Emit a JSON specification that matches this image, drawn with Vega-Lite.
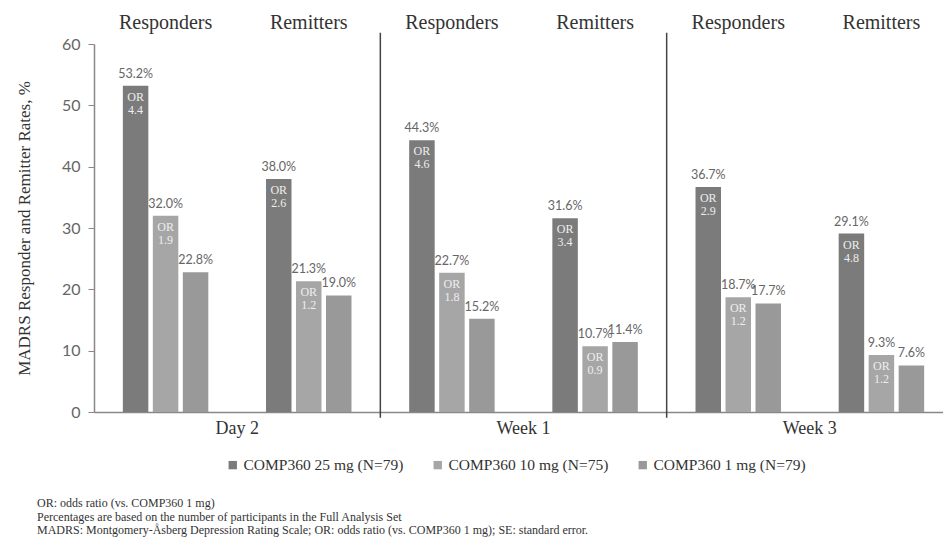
{
  "$schema": "https://vega.github.io/schema/vega-lite/v6.json",
  "width": 849,
  "height": 368,
  "autosize": {"type": "none"},
  "padding": {"left": 94, "top": 44, "right": 0, "bottom": 129},
  "background": "white",
  "config": {
    "view": {"stroke": null},
    "axis": {"grid": false},
    "axisY": {
      "titleFont": "'Liberation Serif', 'Times New Roman', serif",
      "titleFontSize": 17,
      "titleFontWeight": "normal",
      "titleColor": "#333333",
      "titlePadding": 28,
      "labelFont": "Lato",
      "labelFontSize": 16,
      "labelColor": "#666666",
      "tickColor": "#888888",
      "tickSize": 6,
      "labelPadding": 8,
      "domainColor": "#888888",
      "domainWidth": 1.5
    }
  },
  "title": {
    "text": [
      "OR: odds ratio (vs. COMP360 1 mg)",
      "Percentages are based on the number of participants in the Full Analysis Set",
      "MADRS: Montgomery-Åsberg Depression Rating Scale; OR: odds ratio (vs. COMP360 1 mg); SE: standard error."
    ],
    "orient": "bottom",
    "anchor": "start",
    "frame": "group",
    "font": "'Liberation Serif', 'Times New Roman', serif",
    "fontSize": 12,
    "fontWeight": "normal",
    "color": "#333333",
    "lineHeight": 13.5,
    "dx": -57,
    "offset": 24
  },
  "datasets": {
    "bars": [
      {"cat": "Day 2 Responders", "time": "Day 2", "dose": "COMP360 25 mg (N=79)", "rate": 53.2, "or": 4.4},
      {"cat": "Day 2 Responders", "time": "Day 2", "dose": "COMP360 10 mg (N=75)", "rate": 32.0, "or": 1.9},
      {"cat": "Day 2 Responders", "time": "Day 2", "dose": "COMP360 1 mg (N=79)", "rate": 22.8, "or": null},
      {"cat": "Day 2 Remitters", "time": "Day 2", "dose": "COMP360 25 mg (N=79)", "rate": 38.0, "or": 2.6},
      {"cat": "Day 2 Remitters", "time": "Day 2", "dose": "COMP360 10 mg (N=75)", "rate": 21.3, "or": 1.2},
      {"cat": "Day 2 Remitters", "time": "Day 2", "dose": "COMP360 1 mg (N=79)", "rate": 19.0, "or": null},
      {"cat": "Week 1 Responders", "time": "Week 1", "dose": "COMP360 25 mg (N=79)", "rate": 44.3, "or": 4.6},
      {"cat": "Week 1 Responders", "time": "Week 1", "dose": "COMP360 10 mg (N=75)", "rate": 22.7, "or": 1.8},
      {"cat": "Week 1 Responders", "time": "Week 1", "dose": "COMP360 1 mg (N=79)", "rate": 15.2, "or": null},
      {"cat": "Week 1 Remitters", "time": "Week 1", "dose": "COMP360 25 mg (N=79)", "rate": 31.6, "or": 3.4},
      {"cat": "Week 1 Remitters", "time": "Week 1", "dose": "COMP360 10 mg (N=75)", "rate": 10.7, "or": 0.9},
      {"cat": "Week 1 Remitters", "time": "Week 1", "dose": "COMP360 1 mg (N=79)", "rate": 11.4, "or": null},
      {"cat": "Week 3 Responders", "time": "Week 3", "dose": "COMP360 25 mg (N=79)", "rate": 36.7, "or": 2.9},
      {"cat": "Week 3 Responders", "time": "Week 3", "dose": "COMP360 10 mg (N=75)", "rate": 18.7, "or": 1.2},
      {"cat": "Week 3 Responders", "time": "Week 3", "dose": "COMP360 1 mg (N=79)", "rate": 17.7, "or": null},
      {"cat": "Week 3 Remitters", "time": "Week 3", "dose": "COMP360 25 mg (N=79)", "rate": 29.1, "or": 4.8},
      {"cat": "Week 3 Remitters", "time": "Week 3", "dose": "COMP360 10 mg (N=75)", "rate": 9.3, "or": 1.2},
      {"cat": "Week 3 Remitters", "time": "Week 3", "dose": "COMP360 1 mg (N=79)", "rate": 7.6, "or": null}
    ],
    "seps": [
      {"time": "Week 1"},
      {"time": "Week 3"}
    ]
  },
  "layer": [
    {
      "data": {"name": "bars"},
      "encoding": {
        "x": {
          "field": "cat",
          "type": "nominal",
          "sort": null,
          "scale": {"range": [0, 859], "paddingInner": 0.403, "paddingOuter": 0.2015},
          "axis": {
            "orient": "top",
            "title": null,
            "ticks": false,
            "tickSize": 0,
            "domain": false,
            "labelAngle": 0,
            "labelFont": "'Liberation Serif', 'Times New Roman', serif",
            "labelFontSize": 20,
            "labelColor": "#333333",
            "labelPadding": 12,
            "labelExpr": "split(datum.label, ' ')[2]"
          }
        },
        "xOffset": {
          "field": "dose",
          "type": "nominal",
          "sort": ["COMP360 25 mg (N=79)", "COMP360 10 mg (N=75)", "COMP360 1 mg (N=79)"],
          "scale": {"paddingInner": 0.15, "paddingOuter": 0}
        },
        "y": {
          "field": "rate",
          "type": "quantitative",
          "scale": {"domain": [0, 60], "nice": false},
          "axis": {"title": "MADRS Responder and Remitter Rates, %", "values": [0, 10, 20, 30, 40, 50, 60]}
        }
      },
      "layer": [
        {
          "mark": {"type": "bar"},
          "encoding": {
            "color": {
              "field": "dose",
              "type": "nominal",
              "scale": {
                "domain": ["COMP360 25 mg (N=79)", "COMP360 10 mg (N=75)", "COMP360 1 mg (N=79)"],
                "range": ["#7b7b7b", "#a6a6a6", "#999999"]
              },
              "legend": {
                "orient": "none",
                "legendX": 131,
                "legendY": 413,
                "direction": "horizontal",
                "title": null,
                "symbolType": "square",
                "symbolSize": 70,
                "symbolStrokeWidth": 0,
                "labelFont": "'Liberation Serif', 'Times New Roman', serif",
                "labelFontSize": 15.5,
                "labelColor": "#333333",
                "labelOffset": 3,
                "columnPadding": 26
              }
            }
          }
        },
        {
          "mark": {
            "type": "text",
            "font": "Lato",
            "fontSize": 12.5,
            "color": "#666666",
            "baseline": "alphabetic",
            "dy": -8,
            "text": {"expr": "format(datum.rate, '.1f') + '%'"}
          }
        },
        {
          "transform": [{"filter": "datum.or != null"}],
          "mark": {
            "type": "text",
            "font": "'Liberation Serif', 'Times New Roman', serif",
            "fontSize": 12,
            "color": "#eeeeee",
            "baseline": "top",
            "dy": 6,
            "text": "OR"
          }
        },
        {
          "transform": [{"filter": "datum.or != null"}],
          "mark": {
            "type": "text",
            "font": "'Liberation Serif', 'Times New Roman', serif",
            "fontSize": 12,
            "color": "#eeeeee",
            "baseline": "top",
            "dy": 19
          },
          "encoding": {
            "text": {"field": "or", "type": "quantitative", "format": ".1f"}
          }
        }
      ]
    },
    {
      "data": {"name": "seps"},
      "mark": {"type": "rule", "color": "#444444", "strokeWidth": 1.5},
      "encoding": {
        "x": {
          "field": "time",
          "type": "nominal",
          "bandPosition": 0,
          "scale": {"domain": ["Day 2", "Week 1", "Week 3"], "range": [0, 859], "paddingInner": 0, "paddingOuter": 0},
          "axis": {
            "orient": "bottom",
            "title": null,
            "ticks": false,
            "tickSize": 0,
            "domainColor": "#888888",
            "domainWidth": 1.5,
            "labelAngle": 0,
            "labelFont": "'Liberation Serif', 'Times New Roman', serif",
            "labelFontSize": 18,
            "labelColor": "#333333",
            "labelPadding": 7
          }
        },
        "y": {"datum": 61.85, "type": "quantitative", "scale": {"domain": [0, 60], "nice": false}, "axis": {"title": "MADRS Responder and Remitter Rates, %", "values": [0, 10, 20, 30, 40, 50, 60]}},
        "y2": {"datum": -0.93}
      }
    }
  ],
  "resolve": {"scale": {"x": "independent"}, "axis": {"x": "independent"}}
}
